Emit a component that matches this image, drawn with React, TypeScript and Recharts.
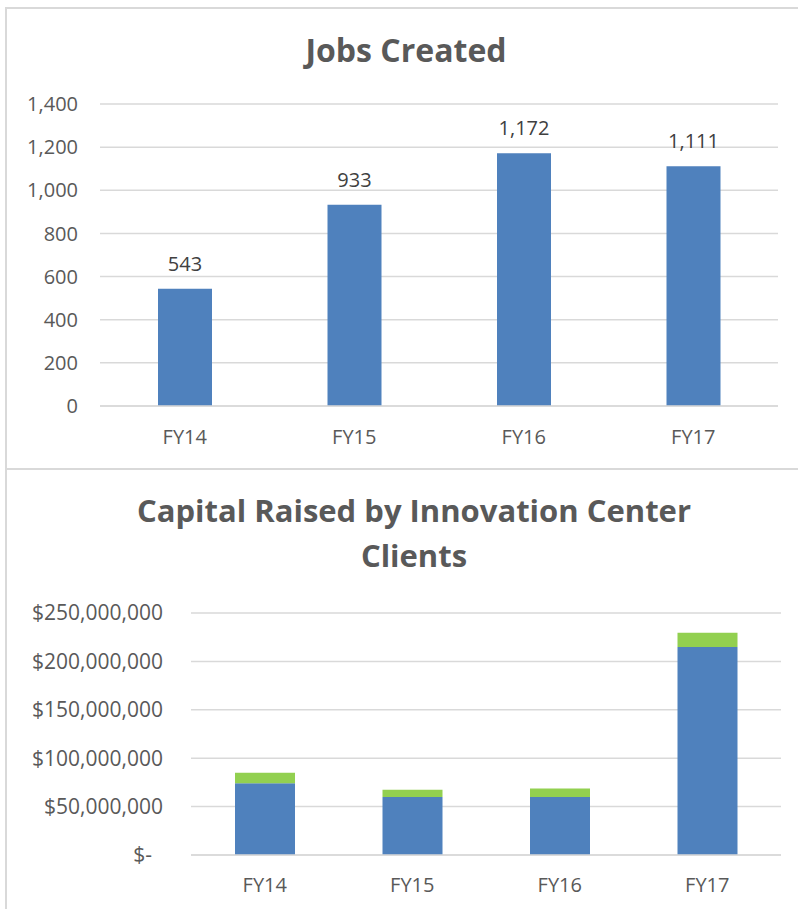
import React from "react";
import { BarChart, Bar, XAxis, YAxis, CartesianGrid, LabelList } from "recharts";

const years = ["FY14", "FY15", "FY16", "FY17"];
const jobs = [543, 933, 1172, 1111];
const jobTicks = [0, 200, 400, 600, 800, 1000, 1200, 1400];

const capitalMain = [74000000, 60000000, 60000000, 215000000];
const capitalExtra = [11000000, 7500000, 8600000, 14500000];
const capitalTicks = [0, 50000000, 100000000, 150000000, 200000000, 250000000];

const jobsData = years.map((y, i) => ({ year: y, jobs: jobs[i] }));
const capitalData = years.map((y, i) => ({ year: y, main: capitalMain[i], extra: capitalExtra[i] }));

const FONT = "'Open Sans', sans-serif";
const GRID = "#D9D9D9";
const TEXT = "#595959";

const titleStyle: React.CSSProperties = {
  position: "absolute",
  fontFamily: FONT,
  fontWeight: 700,
  fontSize: 32,
  color: TEXT,
  textAlign: "center",
  whiteSpace: "nowrap",
};

function MoneyTick(props: any) {
  const { x, y, payload } = props;
  const v = payload.value;
  const label = v === 0 ? "$-" : "$" + v.toLocaleString("en-US");
  return (
    <text x={v === 0 ? x - 11 : x} y={y} dy="0.35em" textAnchor="end" fill={TEXT} fontSize={21} fontFamily={FONT}>
      {label}
    </text>
  );
}

export default function App() {
  return (
    <div style={{ position: "absolute", left: 0, top: 0, width: 798, height: 909, background: "#fff", overflow: "hidden" }}>
      {/* panel borders */}
      <div style={{ position: "absolute", left: 5, top: 7, width: 820, height: 459, borderLeft: `2px solid ${GRID}`, borderTop: `2px solid ${GRID}`, borderBottom: `2px solid ${GRID}` }} />
      <div style={{ position: "absolute", left: 5, top: 468, width: 820, height: 460, borderLeft: `2px solid ${GRID}`, borderTop: `2px solid ${GRID}` }} />

      <div style={{ ...titleStyle, left: 6, width: 800, top: 30, lineHeight: "40px" }}>Jobs Created</div>
      <div style={{ ...titleStyle, fontSize: 31, left: 14, width: 800, top: 488, lineHeight: "45px" }}>
        Capital Raised by Innovation Center
        <br />
        Clients
      </div>

      <div style={{ position: "absolute", left: 0, top: 0 }}>
        <BarChart width={798} height={468} data={jobsData} margin={{ top: 104, right: 20, left: 0, bottom: 32 }}>
          <CartesianGrid vertical={false} stroke={GRID} strokeWidth={1.5} />
          <XAxis
            dataKey="year"
            height={30}
            tickLine={false}
            tickMargin={18}
            axisLine={{ stroke: GRID, strokeWidth: 1.5 }}
            tick={{ fill: TEXT, fontSize: 20, fontFamily: FONT }}
          />
          <YAxis
            width={100}
            domain={[0, 1400]}
            ticks={jobTicks}
            tickLine={false}
            axisLine={false}
            tickMargin={16}
            tickFormatter={(v: number) => v.toLocaleString("en-US")}
            tick={{ fill: TEXT, fontSize: 20, fontFamily: FONT }}
          />
          <Bar dataKey="jobs" name="Jobs Created" fill="#4F81BD" barSize={54} isAnimationActive={false}>
            <LabelList
              dataKey="jobs"
              position="top"
              offset={18}
              formatter={(v: any) => Number(v).toLocaleString("en-US")}
              style={{ fill: "#404040", fontSize: 20, fontFamily: FONT }}
            />
          </Bar>
        </BarChart>
      </div>

      <div style={{ position: "absolute", left: 0, top: 469 }}>
        <BarChart width={798} height={440} data={capitalData} margin={{ top: 144, right: 17, left: 0, bottom: 24 }}>
          <CartesianGrid vertical={false} stroke={GRID} strokeWidth={1.5} />
          <XAxis
            dataKey="year"
            height={30}
            tickLine={false}
            tickMargin={17}
            axisLine={{ stroke: GRID, strokeWidth: 1.5 }}
            tick={{ fill: TEXT, fontSize: 20, fontFamily: FONT }}
          />
          <YAxis
            width={191}
            domain={[0, 250000000]}
            ticks={capitalTicks}
            tickLine={false}
            axisLine={false}
            tickMargin={22}
            tick={<MoneyTick />}
          />
          <Bar dataKey="main" name="Investment" stackId="c" fill="#4F81BD" barSize={60} isAnimationActive={false} />
          <Bar dataKey="extra" name="Other" stackId="c" fill="#92D050" barSize={60} isAnimationActive={false} />
        </BarChart>
      </div>
    </div>
  );
}
